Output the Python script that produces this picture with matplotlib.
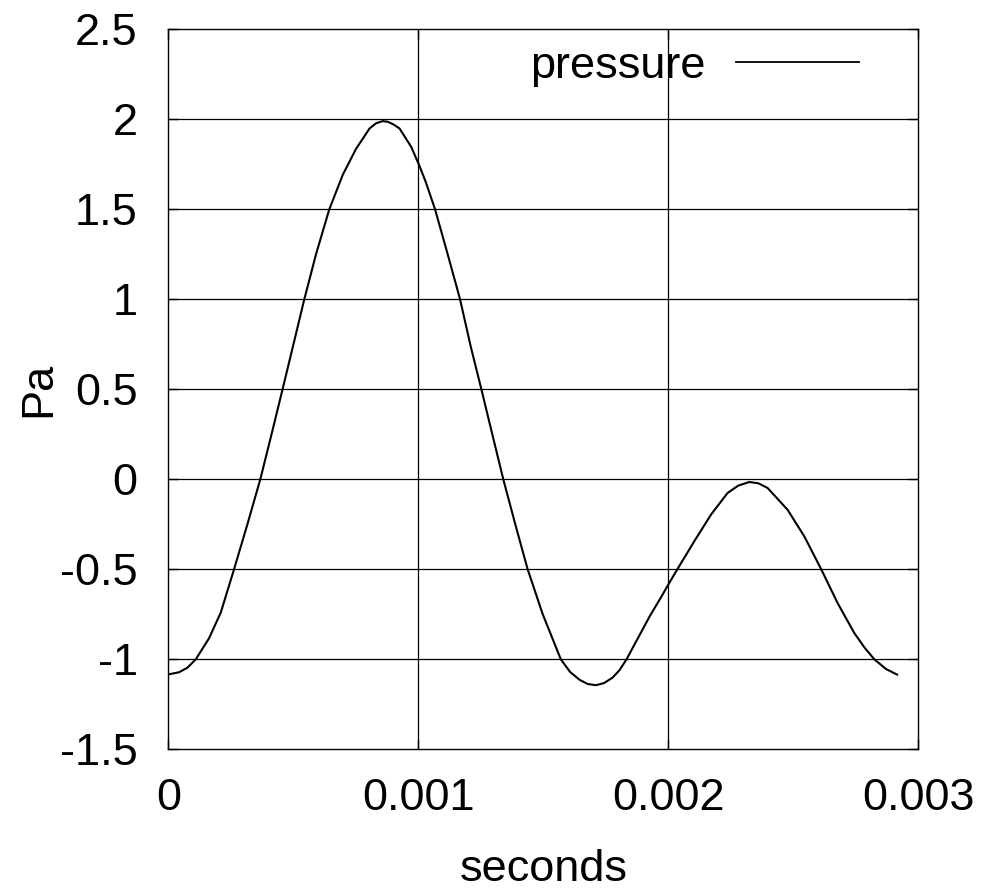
import matplotlib
matplotlib.use("Agg")
import matplotlib.pyplot as plt

plt.rcParams['font.family'] = ['Liberation Sans', 'DejaVu Sans']

seconds = [0.0, 0.0000428, 0.0000762, 0.00011, 0.000163, 0.00021, 0.000263, 0.000317,
           0.000368, 0.000414, 0.000457, 0.000501, 0.000544, 0.000591, 0.000644, 0.000698,
           0.000751, 0.000805, 0.000831, 0.000858, 0.000878, 0.0009, 0.000925, 0.000972,
           0.001005, 0.001029, 0.001067, 0.001116, 0.001167, 0.00121, 0.001252, 0.001296,
           0.00134, 0.001387, 0.001437, 0.001497, 0.00157, 0.001607, 0.001644, 0.001677,
           0.00171, 0.001743, 0.001777, 0.001805, 0.001833, 0.001924, 0.001971, 0.002,
           0.002037, 0.002104, 0.002171, 0.002237, 0.00228, 0.002324, 0.00236, 0.002397,
           0.002477, 0.002544, 0.002611, 0.002677, 0.002744, 0.002785, 0.002824, 0.002871,
           0.002915]
pressure = [-1.084, -1.072, -1.047, -1.0, -0.883, -0.74, -0.5, -0.247,
            0.0, 0.256, 0.5, 0.752, 1.0, 1.251, 1.5, 1.692,
            1.836, 1.949, 1.978, 1.99, 1.986, 1.972, 1.949, 1.846,
            1.74, 1.655, 1.5, 1.258, 1.0, 0.736, 0.502, 0.25,
            0.0, -0.245, -0.498, -0.747, -1.0, -1.07, -1.113, -1.137,
            -1.144, -1.132, -1.102, -1.06, -1.0, -0.765, -0.655, -0.585,
            -0.498, -0.344, -0.196, -0.076, -0.035, -0.015, -0.022, -0.048,
            -0.169, -0.317, -0.498, -0.687, -0.854, -0.935, -1.0, -1.054,
            -1.085]

x_ticks = [0, 0.001, 0.002, 0.003]
x_tick_labels = ["0", "0.001", "0.002", "0.003"]
y_ticks = [-1.5, -1, -0.5, 0, 0.5, 1, 1.5, 2, 2.5]
y_tick_labels = ["-1.5", "-1", "-0.5", "0", "0.5", "1", "1.5", "2", "2.5"]

FS = 32.5

fig = plt.figure(figsize=(9.81, 8.96), dpi=100)
ax = fig.add_axes([168.3/981, 1 - 749.3/896, (918.3-168.3)/981, (749.3-29.3)/896])

ax.plot(seconds, pressure, color='black', linewidth=1.5, label='pressure',
        solid_joinstyle='round')
ax.set_xlim(0, 0.003)
ax.set_ylim(-1.5, 2.5)
ax.set_xticks(x_ticks)
ax.set_xticklabels(x_tick_labels)
ax.set_yticks(y_ticks)
ax.set_yticklabels(y_tick_labels)

for v in x_ticks[1:-1]:
    ax.axvline(v, color='black', linewidth=0.9, zorder=0.5)
for v in y_ticks[1:-1]:
    ax.axhline(v, color='black', linewidth=0.9, zorder=0.5)

ax.tick_params(axis='both', direction='in', length=7, width=1, top=True, right=True,
               labelsize=FS)
ax.tick_params(axis='x', pad=21)
ax.tick_params(axis='y', pad=22)
for s in ax.spines.values():
    s.set_linewidth(1)

ax.set_xlabel('seconds', fontsize=FS)
ax.xaxis.set_label_coords(0.5, -0.138)
ax.set_ylabel('Pa', fontsize=FS)
ax.yaxis.set_label_coords(-0.145, 0.5)

leg = ax.legend(loc='center right', frameon=False, fontsize=FS, markerfirst=False,
                handlelength=2.72, handletextpad=0.68, borderpad=0, borderaxespad=0,
                bbox_to_anchor=(0.9213, 0.948))
for line in leg.get_lines():
    line.set_linewidth(1.3)

fig.savefig('out.png', dpi=100)
